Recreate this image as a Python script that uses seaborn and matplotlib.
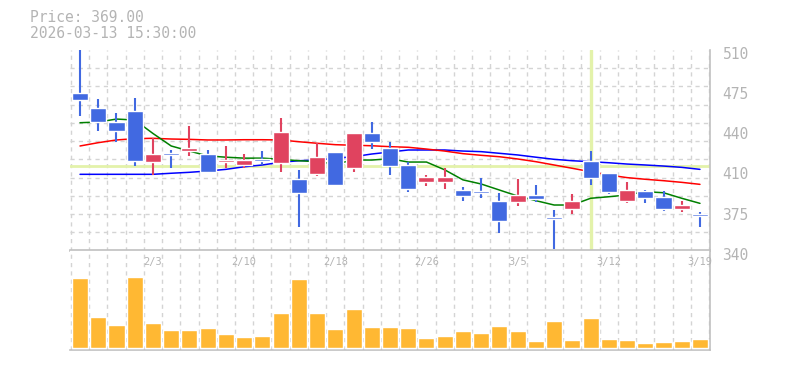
import numpy as np
import pandas as pd
import matplotlib
matplotlib.use("Agg")
import matplotlib.pyplot as plt
import matplotlib.transforms as mtransforms
import seaborn as sns

# trading days shown on the chart
dates = ["1/28", "1/29", "1/30", "2/2", "2/3", "2/4", "2/5", "2/6", "2/9", "2/10",
         "2/12", "2/13", "2/16", "2/17", "2/18", "2/19", "2/20", "2/24", "2/25", "2/26",
         "2/27", "3/2", "3/3", "3/4", "3/5", "3/6", "3/9", "3/10", "3/11", "3/12",
         "3/13", "3/16", "3/17", "3/18", "3/19"]

opens = [473.8, 461.0, 449.0, 458.3, 415.4, 422.7, 424.7, 421.9, 415.1, 412.6,
         417.9, 414.5, 400.7, 405.2, 423.6, 410.3, 439.7, 427.0, 412.6, 398.4,
         398.4, 391.4, 390.6, 382.1, 381.5, 387.2, 368.8, 375.6, 416.0, 405.8,
         382.4, 390.6, 385.5, 375.6, 371.3]
highs = [510.0, 468.5, 456.6, 469.3, 435.2, 425.3, 445.6, 425.3, 428.7, 421.9,
         424.4, 452.4, 408.3, 431.0, 423.6, 439.7, 449.0, 432.1, 415.1, 404.4,
         410.3, 394.2, 401.6, 389.1, 401.0, 395.6, 374.5, 388.0, 424.4, 405.8,
         398.2, 391.4, 390.6, 382.1, 373.0]
lows = [454.1, 441.5, 432.4, 412.0, 404.1, 409.8, 420.2, 405.6, 410.0, 410.0,
        412.6, 406.9, 360.3, 403.5, 395.0, 406.9, 426.4, 404.4, 390.0, 395.0,
        392.5, 382.4, 384.9, 355.2, 378.1, 381.5, 341.4, 371.3, 395.6, 388.0,
        380.7, 380.7, 373.9, 373.0, 360.3]
closes = [467.6, 449.1, 441.7, 416.2, 421.9, 421.1, 427.2, 406.9, 416.8, 416.8,
          416.2, 440.5, 389.1, 419.4, 395.9, 439.7, 432.3, 412.0, 392.5, 402.4,
          402.4, 386.6, 388.9, 365.4, 387.2, 384.1, 367.1, 382.1, 401.8, 390.0,
          391.4, 384.9, 375.6, 378.7, 369.6]

volume = [697, 307, 227, 707, 250, 177, 177, 197, 137, 107,
          117, 347, 687, 347, 187, 387, 207, 207, 197, 97,
          117, 167, 147, 217, 167, 67, 267, 77, 297, 87,
          77, 47, 57, 67, 87]

ma_short = [448.4, 449.0, 451.5, 450.7, 439.3, 428.7, 424.4, 420.3, 419.2, 418.4,
            418.4, 417.4, 416.2, 415.4, 413.4, 416.8, 416.8, 417.9, 415.1, 415.1,
            408.5, 400.0, 396.5, 391.4, 386.3, 382.4, 378.7, 378.7, 384.4, 385.7,
            387.2, 390.0, 389.1, 384.4, 380.1]
ma_mid = [428.7, 431.5, 433.8, 434.9, 435.2, 434.6, 434.3, 433.8, 433.8, 434.0,
          434.0, 433.8, 432.3, 431.0, 429.8, 429.3, 428.9, 428.1, 427.6, 426.1,
          424.4, 422.2, 420.8, 419.6, 417.7, 415.4, 412.6, 409.8, 406.9, 404.1,
          401.9, 400.5, 399.3, 397.9, 396.2]
ma_long = [404.7, 404.7, 404.7, 404.7, 404.7, 405.6, 406.4, 407.5, 408.9, 411.1,
           412.6, 414.9, 416.2, 416.8, 418.3, 419.6, 421.9, 423.6, 425.3, 425.3,
           425.3, 424.4, 423.9, 422.5, 421.1, 419.2, 417.4, 416.2, 415.4, 414.5,
           413.4, 412.6, 411.7, 410.6, 408.9]

price_ticks = [340, 374, 408, 442, 476, 510]
price_labels = ["340", "375", "410", "440", "475", "510"]
label_every = [4, 9, 14, 19, 24, 29, 34]

cursor_idx = 28
cursor_price = 411.5

df = pd.DataFrame({"date": dates, "open": opens, "high": highs, "low": lows,
                   "close": closes, "volume": volume,
                   "ma5": ma_short, "ma25": ma_mid, "ma75": ma_long})
df["i"] = np.arange(len(df))

sns.set_theme(style="white")
plt.rcParams["font.family"] = ["DejaVu Sans Mono", "DejaVu Sans"]

UP = "#e0435f"
DOWN = "#4169e1"
GRID = "#d4d4d4"
TXT = "#b4b4b4"
EDGE = "#c0c0c0"

fig = plt.figure(figsize=(7.85, 3.7), dpi=100)
ax = fig.add_axes([70 / 785, (370 - 250.7) / 370, 640 / 785, 200.7 / 370])
axv = fig.add_axes([70 / 785, 20 / 370, 640 / 785, 100 / 370])

# crosshair
ax.axvline(cursor_idx, color="#e3f2aa", lw=2.4, zorder=1)
ax.axhline(cursor_price, color="#e3f2aa", lw=2.0, zorder=1)

# moving averages
sns.lineplot(data=df, x="i", y="ma75", color="#0000ff", lw=1.1, ax=ax, zorder=2)
sns.lineplot(data=df, x="i", y="ma25", color="#ff0000", lw=1.1, ax=ax, zorder=2)
sns.lineplot(data=df, x="i", y="ma5", color="#008000", lw=1.1, ax=ax, zorder=2)

# candles
colors = [UP if c >= o else DOWN for o, c in zip(df["open"], df["close"])]
ax.vlines(df["i"], df["low"], df["high"], colors=colors, lw=1.5, zorder=3)
body_lo = np.minimum(df["open"], df["close"])
body_h = np.maximum(np.abs(df["close"] - df["open"]), 1.6)
ax.bar(df["i"], body_h, bottom=body_lo, width=0.88, color=colors, zorder=4)

ax.set_xlim(-0.55, 34.55)
ax.set_ylim(340, 510)
ax.set_xticks([])
ax.set_xticks(np.arange(-0.5, 35, 1), minor=True)
ax.set_yticks(np.linspace(340, 510, 12), minor=True)
ax.yaxis.tick_right()
ax.set_yticks(price_ticks)
ax.set_yticklabels(price_labels)
ax.tick_params(axis="y", which="major", length=0, pad=9, labelsize=10.5, labelcolor=TXT)
ax.tick_params(which="minor", length=0)
ax.grid(False)
ax.grid(which="minor", color=GRID, ls=(0, (3, 3)), lw=1)
ax.set_xlabel("")
ax.set_ylabel("")
offset = mtransforms.ScaledTranslation(0, -3 / 100, fig.dpi_scale_trans)
for lab in ax.get_yticklabels():
    lab.set_transform(lab.get_transform() + offset)
for s in ["left", "top"]:
    ax.spines[s].set_visible(False)
for s in ["bottom", "right"]:
    ax.spines[s].set_color(EDGE)
    ax.spines[s].set_linewidth(1.2)

# volume
sns.barplot(data=df, x="i", y="volume", native_scale=True, color="#ffb833",
            saturation=1, width=0.88, ax=axv, zorder=3)
axv.set_xlim(-0.55, 34.55)
axv.set_ylim(-23, 977)
axv.set_xticks([])
axv.set_yticks([])
axv.set_xticks(np.arange(-0.5, 35, 1), minor=True)
axv.tick_params(which="minor", length=0)
axv.grid(False)
axv.grid(which="minor", axis="x", color=GRID, ls=(0, (3, 3)), lw=1)
axv.set_xlabel("")
axv.set_ylabel("")
axv.spines["left"].set_visible(False)
for s in ["top", "bottom", "right"]:
    axv.spines[s].set_color(EDGE)
    axv.spines[s].set_linewidth(1.2)

trans = mtransforms.blended_transform_factory(axv.transData, axv.transAxes)
for k in label_every:
    axv.text(k, 0.885, dates[k], transform=trans, ha="center", va="center",
             fontsize=7.5, color=TXT, zorder=5)

fig.text(30 / 785, 1 - 17.5 / 370, "Price: 369.00", ha="left", va="center",
         fontsize=10.5, color=TXT)
fig.text(30 / 785, 1 - 33.3 / 370, "2026-03-13 15:30:00", ha="left", va="center",
         fontsize=10.5, color=TXT)

fig.savefig("out.png", dpi=100)
